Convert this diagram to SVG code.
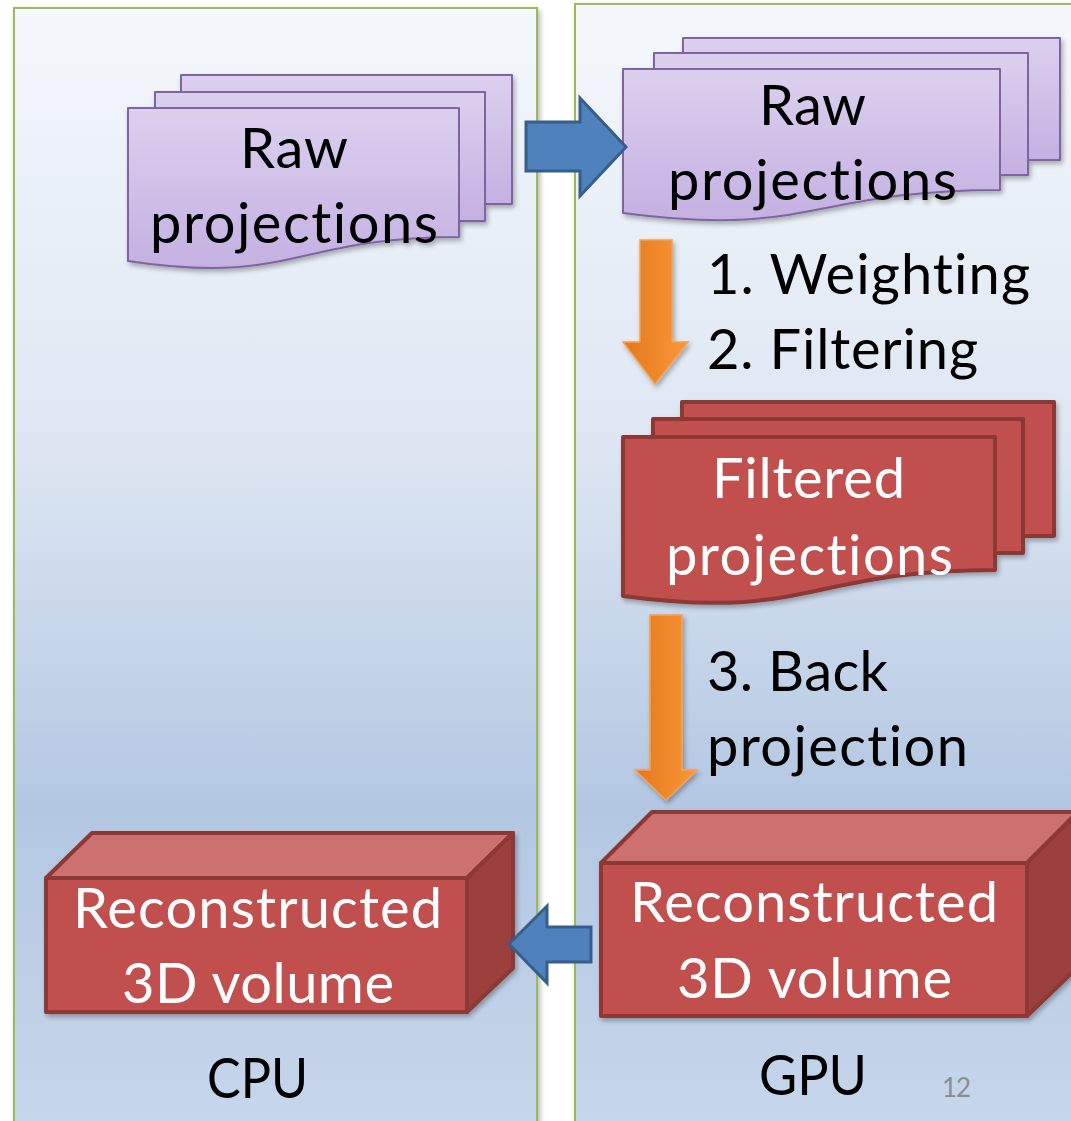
<svg xmlns="http://www.w3.org/2000/svg" width="1071" height="1121" viewBox="0 0 1071 1121">
<defs>
<linearGradient id="panelGrad" gradientUnits="userSpaceOnUse" x1="0" y1="0" x2="0" y2="1121">
<stop offset="0" stop-color="#f5f8fc"/>
<stop offset="0.4" stop-color="#dde6f2"/>
<stop offset="0.72" stop-color="#b3c7e2"/>
<stop offset="1" stop-color="#c6d6eb"/>
</linearGradient>
<linearGradient id="purpleGrad" x1="0" y1="0" x2="0" y2="1">
<stop offset="0" stop-color="#dcd0ee"/>
<stop offset="1" stop-color="#c4b0e2"/>
</linearGradient>
<linearGradient id="orangeGrad" x1="0" y1="0" x2="1" y2="0">
<stop offset="0" stop-color="#e2781f"/>
<stop offset="1" stop-color="#fb9737"/>
</linearGradient>
<filter id="shadow" x="-10%" y="-10%" width="125%" height="125%">
<feGaussianBlur in="SourceAlpha" stdDeviation="2.5"/>
<feOffset dx="2" dy="3" result="b"/>
<feComponentTransfer><feFuncA type="linear" slope="0.3"/></feComponentTransfer>
<feMerge><feMergeNode/><feMergeNode in="SourceGraphic"/></feMerge>
</filter>
</defs>
<style>
.panel{fill:url(#panelGrad);stroke:#9bbb59;stroke-width:2}
.pdoc{fill:url(#purpleGrad);stroke:#8064a2;stroke-width:2;stroke-linejoin:round}
.rdoc{fill:#c0504d;stroke:#8c3836;stroke-width:4;stroke-linejoin:round}
.front{fill:#c0504d;stroke:#8c3836;stroke-width:4;stroke-linejoin:round}
.top{fill:#cd716f;stroke:#8c3836;stroke-width:4;stroke-linejoin:round}
.side{fill:#9b3f3d;stroke:#8c3836;stroke-width:4;stroke-linejoin:round}
.blue{fill:#4f81bd;stroke:#385d8a;stroke-width:3;stroke-linejoin:miter}
.orange{fill:url(#orangeGrad);stroke:#f7a050;stroke-width:1.5}
text{font-family:Lato,"Open Sans","Liberation Sans",sans-serif;font-size:56px;font-variant-ligatures:none;font-feature-settings:"liga" 0,"dlig" 0}
.dark{fill:#000}
.light{fill:#fff}
.num{fill:#8c8c8c;font-size:26px}
</style>

<g id="cpu-panel" filter="url(#shadow)">
<rect class="panel" x="14" y="8" width="523" height="1125"/>
</g>
<g id="gpu-panel" filter="url(#shadow)">
<rect class="panel" x="575" y="4" width="520" height="1130"/>
</g>

<g id="raw-cpu" filter="url(#shadow)">
<rect class="pdoc" x="181" y="75" width="331" height="129"/>
<rect class="pdoc" x="155" y="92" width="330" height="129"/>
<path class="pdoc" d="M128,108 H459 V237 C293.5,237 293.5,286 128,261 Z"/>
<text class="dark" x="240" y="168" textLength="108">Raw</text>
<text class="dark" x="150" y="243" textLength="288">projections</text>
</g>

<g id="raw-gpu" filter="url(#shadow)">
<rect class="pdoc" x="683" y="38" width="377" height="122"/>
<rect class="pdoc" x="654" y="53" width="374" height="122"/>
<path class="pdoc" d="M623,69 H1000 V190 C811.5,190 811.5,238 623,213 Z"/>
<text class="dark" x="759" y="125" textLength="107">Raw</text>
<text class="dark" x="668" y="200" textLength="289">projections</text>
</g>

<g id="filtered-gpu" filter="url(#shadow)">
<rect class="rdoc" x="682" y="402" width="372" height="134"/>
<rect class="rdoc" x="653" y="419" width="370" height="134"/>
<path class="rdoc" d="M623,437 H995 V570 C809,570 809,621 623,596 Z"/>
<text class="light" x="712" y="498" textLength="193">Filtered</text>
<text class="light" x="666" y="575" textLength="287">projections</text>
</g>

<g id="volume-cpu" filter="url(#shadow)">
<polygon class="top" points="46,878 92,833 513,833 467,878"/>
<polygon class="side" points="467,878 513,833 513,968 467,1012"/>
<rect class="front" x="46" y="878" width="421" height="134"/>
<text class="light" x="73" y="928" textLength="369">Reconstructed</text>
<text class="light" x="122" y="1003" textLength="272">3D volume</text>
</g>

<g id="volume-gpu" filter="url(#shadow)">
<polygon class="top" points="601,863 652,812 1078,812 1027,863"/>
<polygon class="side" points="1027,863 1078,812 1078,967 1027,1016"/>
<rect class="front" x="601" y="863" width="426" height="153"/>
<text class="light" x="630" y="922" textLength="368">Reconstructed</text>
<text class="light" x="677" y="998" textLength="275">3D volume</text>
</g>

<g id="connectors">
<polygon class="blue" points="526,122 580,122 580,98 626,147 580,196 580,171 526,171"/>
<polygon class="blue" points="591,927 547,927 547,906 509,944 547,983 547,962 591,962"/>
<polygon class="orange" filter="url(#shadow)" points="640,240 672,240 672,342 688,342 655,384 623,342 640,342"/>
<polygon class="orange" filter="url(#shadow)" points="650,615 682,615 682,770 697,770 666,800 635,770 650,770"/>
</g>

<g id="labels">
<text class="dark" x="707" y="294" textLength="323">1. Weighting</text>
<text class="dark" x="707" y="369" textLength="271">2. Filtering</text>
<text class="dark" x="707" y="691" textLength="181">3. Back</text>
<text class="dark" x="707" y="766" textLength="261">projection</text>
<text class="dark" x="207" y="1098" textLength="101" lengthAdjust="spacingAndGlyphs">CPU</text>
<text class="dark" x="759" y="1095" textLength="108" lengthAdjust="spacingAndGlyphs">GPU</text>
<text class="num" x="942" y="1097" textLength="29">12</text>
</g>
</svg>
